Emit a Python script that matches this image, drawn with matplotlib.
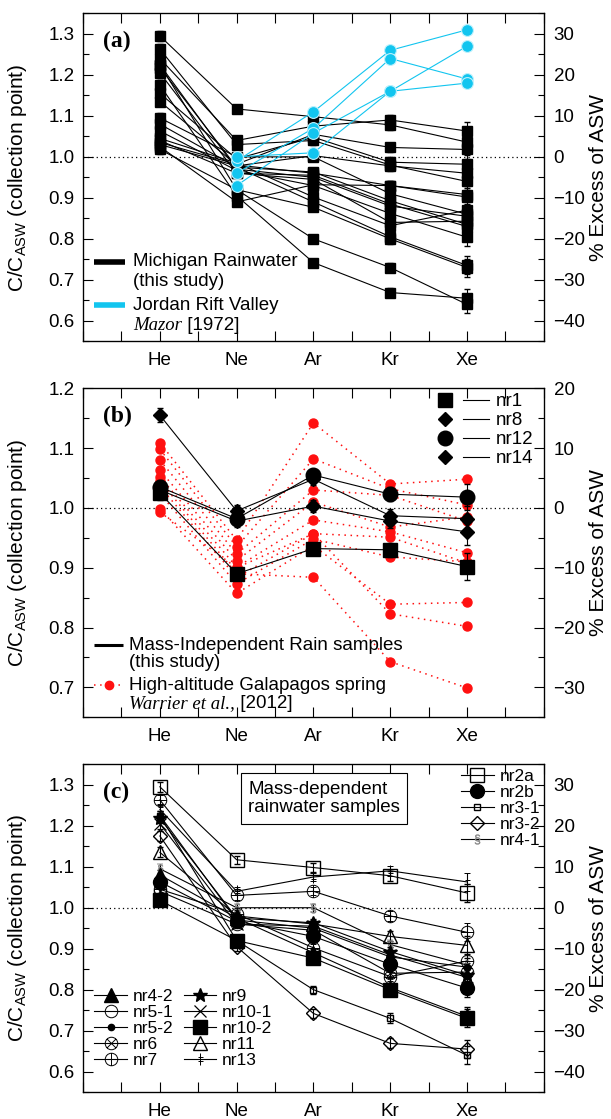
import matplotlib.pyplot as plt
import numpy as np
from matplotlib.path import Path
from matplotlib.lines import Line2D
from matplotlib.legend_handler import HandlerTuple
from matplotlib.ticker import MultipleLocator

plt.rcParams['font.family'] = ['Liberation Sans', 'DejaVu Sans']
plt.rcParams['mathtext.fontset'] = 'custom'
plt.rcParams['mathtext.rm'] = 'Liberation Sans'
plt.rcParams['mathtext.it'] = 'Liberation Serif:italic'

gases = ['He', 'Ne', 'Ar', 'Kr', 'Xe']

# C/C_ASW at the collection point, in order He, Ne, Ar, Kr, Xe
# mass-independent rain samples
nr1 = [1.025, 0.890, 0.932, 0.930, 0.902]
nr8 = [1.155, 0.995, 1.048, 0.987, 0.982]
nr12 = [1.035, 0.982, 1.055, 1.023, 1.018]
nr14 = [1.030, 0.978, 1.003, 0.978, 0.960]

# mass-dependent rain samples
nr2a = [1.295, 1.117, 1.098, 1.078, 1.036]
nr2b = [1.063, 0.967, 0.930, 0.862, 0.804]
nr3_1 = [1.225, 0.920, 0.800, 0.730, 0.640]
nr3_2 = [1.175, 0.905, 0.742, 0.669, 0.655]
nr4_1 = [1.095, 1.000, 1.000, 0.910, 0.860]
nr4_2 = [1.080, 0.975, 0.890, 0.805, 0.735]
nr5_1 = [1.045, 0.985, 0.902, 0.832, 0.870]
nr5_2 = [1.225, 0.970, 0.950, 0.880, 0.855]
nr6 = [1.040, 0.960, 0.945, 0.840, 0.843]
nr7 = [1.263, 1.030, 1.040, 0.980, 0.940]
nr9 = [1.218, 0.975, 0.963, 0.893, 0.835]
nr10_1 = [1.205, 0.960, 0.955, 0.885, 0.830]
nr10_2 = [1.018, 0.920, 0.877, 0.800, 0.730]
nr11 = [1.135, 0.980, 0.960, 0.930, 0.908]
nr13 = [1.240, 1.040, 1.075, 1.090, 1.063]

# typical 1-sigma uncertainty per gas
err = [0.012, 0.010, 0.010, 0.012, 0.022]

# Jordan Rift Valley, Mazor [1972] (no He)
jordan = [
    [np.nan, 0.990, 1.110, 1.260, 1.310],
    [np.nan, 0.960, 1.070, 1.240, 1.190],
    [np.nan, 0.930, 1.058, 1.160, 1.270],
    [np.nan, 1.000, 1.010, 1.160, 1.180],
]

# high-altitude Galapagos spring, Warrier et al. [2012]
galapagos = [
    [1.109, 0.946, 1.142, 1.040, 1.048],
    [1.098, 0.935, 1.082, 1.032, 1.005],
    [1.080, 0.923, 1.030, 1.021, 0.978],
    [1.063, 0.912, 1.010, 0.968, 0.985],
    [1.052, 0.901, 0.980, 0.960, 0.925],
    [1.036, 0.884, 0.957, 0.951, 0.908],
    [1.024, 0.873, 0.948, 0.918, 0.910],
    [0.999, 0.857, 0.937, 0.839, 0.842],
    [0.993, 0.900, 0.957, 0.823, 0.802],
    [1.045, 0.890, 0.884, 0.743, 0.699],
]

indep = {'nr1': nr1, 'nr8': nr8, 'nr12': nr12, 'nr14': nr14}
dep = {'nr2a': nr2a, 'nr2b': nr2b, 'nr3-1': nr3_1, 'nr3-2': nr3_2,
       'nr4-1': nr4_1, 'nr4-2': nr4_2, 'nr5-1': nr5_1, 'nr5-2': nr5_2,
       'nr6': nr6, 'nr7': nr7, 'nr9': nr9, 'nr10-1': nr10_1,
       'nr10-2': nr10_2, 'nr11': nr11, 'nr13': nr13}

x = np.arange(1, len(gases) + 1)
CYAN = '#12c5ef'
RED = '#ff1010'
FS = 13.5


# composite marker shapes
def compound(*segs):
    paths = [Path.unit_circle()]
    for seg in segs:
        paths.append(Path(seg, [Path.MOVETO, Path.LINETO]))
    return Path.make_compound_path(*paths)


circle_minus = compound([(-1, 0), (1, 0)])
circle_plus = compound([(-1, 0), (1, 0)], [(0, -1), (0, 1)])
circle_x = compound([(-0.71, -0.71), (0.71, 0.71)], [(-0.71, 0.71), (0.71, -0.71)])
dbl_dagger = Path([(0, -1), (0, 1), (-0.45, 0.4), (0.45, 0.4), (-0.45, -0.4), (0.45, -0.4)],
                  [Path.MOVETO, Path.LINETO] * 3)

dep_style = {
    'nr2a': dict(marker='s', ms=10, mfc='none'),
    'nr2b': dict(marker='o', ms=10, mfc='k'),
    'nr3-1': dict(marker='s', ms=4, mfc='none'),
    'nr3-2': dict(marker='D', ms=7.5, mfc='none'),
    'nr4-1': dict(marker=r'$\S$', ms=7, mfc='0.5', mec='0.5', mew=0.3),
    'nr4-2': dict(marker='^', ms=10, mfc='k'),
    'nr5-1': dict(marker=circle_minus, ms=9, mfc='none', mew=0.7),
    'nr5-2': dict(marker='o', ms=4.5, mfc='k'),
    'nr6': dict(marker=circle_x, ms=9, mfc='none', mew=0.7),
    'nr7': dict(marker=circle_plus, ms=9, mfc='none', mew=0.7),
    'nr9': dict(marker='*', ms=10, mfc='k'),
    'nr10-1': dict(marker='x', ms=9, mew=0.9),
    'nr10-2': dict(marker='s', ms=10, mfc='k'),
    'nr11': dict(marker='^', ms=10, mfc='none'),
    'nr13': dict(marker=dbl_dagger, ms=8, mew=0.7),
}
indep_style = {
    'nr1': dict(marker='s', ms=10),
    'nr8': dict(marker='D', ms=7.5),
    'nr12': dict(marker='o', ms=10.5),
    'nr14': dict(marker='D', ms=7.5),
}


def setup(ax, ylo, yhi, yticks, label):
    ax.set_xlim(0, 6)
    ax.set_ylim(ylo, yhi)
    ax.set_xticks(x)
    ax.set_xticklabels(gases)
    ax.xaxis.set_minor_locator(MultipleLocator(0.5))
    ax.set_yticks(yticks)
    ax.set_yticklabels(['%.1f' % t for t in yticks])
    ax.yaxis.set_minor_locator(MultipleLocator(0.05))
    ax.tick_params(axis='x', which='both', direction='in', top=True, length=7,
                   width=0.8, labelsize=FS, pad=8)
    ax.tick_params(axis='y', which='major', direction='in', length=7, width=0.8,
                   labelsize=FS, pad=6)
    ax.tick_params(axis='y', which='minor', direction='in', length=4, width=0.8)
    ax.axhline(1.0, color='k', ls=(0, (1, 2.5)), lw=0.9, zorder=1)
    ax.set_ylabel(r'C/C$_{\mathrm{ASW}}$ (collection point)', fontsize=15)
    ax.yaxis.set_label_coords(-0.118, 0.5)
    for s in ax.spines.values():
        s.set_linewidth(0.9)

    ax2 = ax.twinx()
    ax2.set_ylim((ylo - 1) * 100, (yhi - 1) * 100)
    ax2.yaxis.set_major_locator(MultipleLocator(10))
    ax2.yaxis.set_minor_locator(MultipleLocator(5))
    ax2.tick_params(axis='y', which='major', direction='in', length=7, width=0.8,
                    labelsize=FS, pad=7)
    ax2.tick_params(axis='y', which='minor', direction='in', length=4, width=0.8)
    ax2.set_ylabel('% Excess of ASW', fontsize=15, rotation=90)
    ax2.yaxis.set_label_coords(1.098, 0.5)

    ax.text(0.043, 0.915, label, transform=ax.transAxes, fontsize=17,
            fontweight='bold', family='Liberation Serif', va='center')
    return ax2


def cite(ax, xa, ya, who, year):
    # italic serif author followed by an upright year
    t = ax.text(xa, ya, who, transform=ax.transAxes, fontsize=FS, va='center',
                family='Liberation Serif', style='italic')
    ax.annotate(' ' + year, xy=(1, 0.5), xycoords=t, va='center', fontsize=FS)


fig = plt.figure(figsize=(6.11, 11.19), dpi=100)
L, W = 0.136, 0.754

# (a) all Michigan rain samples vs Jordan Rift Valley
ax = fig.add_axes([L, 0.695, W, 0.293])
setup(ax, 0.55, 1.35, np.arange(0.6, 1.31, 0.1), '(a)')
for name, vals in list(dep.items()) + list(indep.items()):
    ax.errorbar(x, vals, yerr=err, color='k', lw=0.8, marker='s', ms=7.5,
                capsize=2.5, elinewidth=0.8, zorder=3)
for vals in jordan:
    ax.plot(x, vals, color=CYAN, lw=0.8, marker='o', ms=8.5, mfc=CYAN,
            mec='#bdf1fd', mew=0.8, zorder=4)

ax.plot([0.024, 0.091], [0.242, 0.242], transform=ax.transAxes, color='k',
        lw=4, solid_capstyle='butt')
ax.plot([0.024, 0.091], [0.110, 0.110], transform=ax.transAxes, color=CYAN,
        lw=4, solid_capstyle='butt')
ax.text(0.108, 0.242, 'Michigan Rainwater', transform=ax.transAxes,
        fontsize=FS, va='center')
ax.text(0.108, 0.183, '(this study)', transform=ax.transAxes,
        fontsize=FS, va='center')
ax.text(0.108, 0.110, 'Jordan Rift Valley', transform=ax.transAxes,
        fontsize=FS, va='center')
cite(ax, 0.108, 0.049, 'Mazor', '[1972]')

# (b) mass-independent samples vs Galapagos spring
ax = fig.add_axes([L, 0.359, W, 0.294])
setup(ax, 0.65, 1.2, np.arange(0.7, 1.21, 0.1), '(b)')
for vals in galapagos:
    ax.plot(x, vals, color=RED, lw=1.1, ls=(0, (1, 3)), marker='o', ms=6.5,
            mec=RED, zorder=2)
for name, vals in indep.items():
    ax.errorbar(x, vals, yerr=err, color='k', lw=0.8, capsize=2.5,
                elinewidth=0.8, zorder=3, **indep_style[name])

handles = [(Line2D([], [], color='k', ls='none', **indep_style[n]),
            Line2D([], [], color='k', lw=0.8)) for n in indep]
ax.legend(handles, list(indep), handler_map={tuple: HandlerTuple(ndivide=None, pad=0.25)},
          loc='upper left', bbox_to_anchor=(0.758, 0.985), frameon=False,
          fontsize=FS, handlelength=3.0, handletextpad=0.4, labelspacing=0.1,
          borderpad=0, borderaxespad=0)

ax.plot([0.024, 0.087], [0.219, 0.219], transform=ax.transAxes, color='k',
        lw=2.2, solid_capstyle='butt')
ax.plot([0.024, 0.087], [0.097, 0.097], transform=ax.transAxes, color=RED,
        lw=1.1, ls=(0, (1, 3)))
ax.plot([0.0555], [0.097], transform=ax.transAxes, color=RED, marker='o', ms=6)
ax.text(0.10, 0.219, 'Mass-Independent Rain samples', transform=ax.transAxes,
        fontsize=FS, va='center')
ax.text(0.10, 0.167, '(this study)', transform=ax.transAxes,
        fontsize=FS, va='center')
ax.text(0.10, 0.097, 'High-altitude Galapagos spring', transform=ax.transAxes,
        fontsize=FS, va='center')
cite(ax, 0.10, 0.043, 'Warrier et al.,', '[2012]')

# (c) mass-dependent samples
ax = fig.add_axes([L, 0.024, W, 0.293])
setup(ax, 0.55, 1.35, np.arange(0.6, 1.31, 0.1), '(c)')
for name, vals in dep.items():
    ax.errorbar(x, vals, yerr=err, color='k', lw=0.8, capsize=2.5,
                elinewidth=0.8, zorder=3, **dep_style[name])

ax.text(0.358, 0.896, 'Mass-dependent\nrainwater samples', transform=ax.transAxes,
        fontsize=FS, va='center', linespacing=1.1,
        bbox=dict(boxstyle='square,pad=0.4', fc='white', ec='k', lw=0.8))


def dep_handles(names):
    return [Line2D([], [], color='k', lw=0.8, **dep_style[n]) for n in names]


right_names = ['nr2a', 'nr2b', 'nr3-1', 'nr3-2', 'nr4-1']
left_names = ['nr4-2', 'nr5-1', 'nr5-2', 'nr6', 'nr7',
              'nr9', 'nr10-1', 'nr10-2', 'nr11', 'nr13']
leg1 = ax.legend(dep_handles(right_names), right_names, loc='upper right',
                 bbox_to_anchor=(0.993, 0.985), frameon=False, fontsize=12.5,
                 handlelength=1.9, handletextpad=0.35, labelspacing=0.05,
                 borderpad=0, borderaxespad=0)
ax.add_artist(leg1)
ax.legend(dep_handles(left_names), left_names, ncol=2, loc='upper left',
          bbox_to_anchor=(0.024, 0.315), frameon=False, fontsize=12.5,
          handlelength=1.9, handletextpad=0.3, labelspacing=0.05,
          columnspacing=0.6, borderpad=0, borderaxespad=0)

fig.savefig('out.png', dpi=100)
